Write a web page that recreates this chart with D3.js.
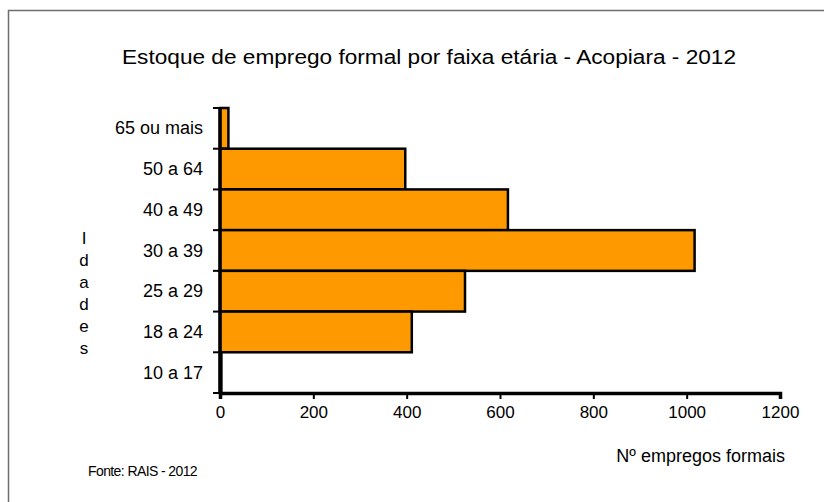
<!DOCTYPE html>
<html>
<head>
<meta charset="utf-8">
<script src="https://cdn.jsdelivr.net/npm/d3@7"></script>
<style>
  body { margin: 0; background: #fff; }
  text { font-family: "Liberation Sans", Arial, sans-serif; fill: #000; }
</style>
</head>
<body>
<script>
// faixas etarias, de cima para baixo
var faixas = ["65 ou mais", "50 a 64", "40 a 49", "30 a 39", "25 a 29", "18 a 24", "10 a 17"];
var empregos = [18, 397, 617, 1017, 525, 411, 3];
var xTicks = [0, 200, 400, 600, 800, 1000, 1200];
var eixoY = ["I", "d", "a", "d", "e", "s"];

var svgWidth = 824;
var svgHeight = 502;

var svg = d3.select('body').append('svg')
  .attr('width', svgWidth)
  .attr('height', svgHeight);

// moldura (so aparecem os lados esquerdo e superior)
svg.append('path')
  .attr('d', 'M8.5,' + svgHeight + ' V10.5 H' + svgWidth)
  .attr('fill', 'none')
  .attr('stroke', '#6e6e6e')
  .attr('stroke-width', 1.5);

svg.append('text')
  .attr('x', 122)
  .attr('y', 64)
  .attr('textLength', 614)
  .attr('lengthAdjust', 'spacingAndGlyphs')
  .style('font-size', '20px')
  .text('Estoque de emprego formal por faixa etária - Acopiara - 2012');

var x = d3.scaleLinear().domain([0, 1200]).range([220, 780]);
var y = d3.scaleBand().domain(faixas).range([108, 393]).padding(0);

svg.selectAll('rect.barra')
  .data(faixas)
  .enter().append('rect')
  .attr('class', 'barra')
  .attr('x', x(0))
  .attr('y', function(d) { return y(d); })
  .attr('width', function(d, i) { return x(empregos[i]) - x(0); })
  .attr('height', y.bandwidth())
  .attr('fill', '#ff9900')
  .attr('stroke', '#000')
  .attr('stroke-width', 2.5);

// eixo y: linha e marcas nas divisas das faixas
var bordas = faixas.map(function(d) { return y(d); }).concat([y.range()[1]]);
svg.selectAll('line.ytick')
  .data(bordas)
  .enter().append('line')
  .attr('class', 'ytick')
  .attr('x1', x(0) - 7).attr('x2', x(0))
  .attr('y1', function(d) { return d; }).attr('y2', function(d) { return d; })
  .attr('stroke', '#000').attr('stroke-width', 2);

svg.append('line')
  .attr('x1', x(0)).attr('x2', x(0))
  .attr('y1', y.range()[0]).attr('y2', y.range()[1])
  .attr('stroke', '#000').attr('stroke-width', 3.5);

svg.selectAll('text.cat')
  .data(faixas)
  .enter().append('text')
  .attr('class', 'cat')
  .attr('x', 203)
  .attr('y', function(d) { return y(d) + y.bandwidth() / 2 + 6; })
  .attr('text-anchor', 'end')
  .style('font-size', '18px')
  .text(function(d) { return d; });

// eixo x
var xAxis = d3.axisBottom(x).tickValues(xTicks).tickSize(6).tickFormat(d3.format('d'));
var gx = svg.append('g')
  .attr('transform', 'translate(0,' + y.range()[1] + ')')
  .call(xAxis);
gx.select('.domain').attr('stroke', '#000').attr('stroke-width', 3.5);
gx.selectAll('.tick line').attr('stroke', '#000').attr('stroke-width', 2);
gx.selectAll('.tick text')
  .attr('y', 13)
  .style('font-size', '17px')
  .style('font-family', '"Liberation Sans", Arial, sans-serif');

svg.selectAll('text.letra')
  .data(eixoY)
  .enter().append('text')
  .attr('class', 'letra')
  .attr('x', 84)
  .attr('y', function(d, i) { return 244 + i * 22; })
  .attr('text-anchor', 'middle')
  .style('font-size', '17px')
  .text(function(d) { return d; });

svg.append('text')
  .attr('x', 785)
  .attr('y', 462)
  .attr('text-anchor', 'end')
  .style('font-size', '18px')
  .text('Nº empregos  formais');

svg.append('text')
  .attr('x', 88)
  .attr('y', 476)
  .style('font-size', '14px')
  .style('letter-spacing', '-0.6px')
  .text('Fonte: RAIS - 2012');
</script>
</body>
</html>
